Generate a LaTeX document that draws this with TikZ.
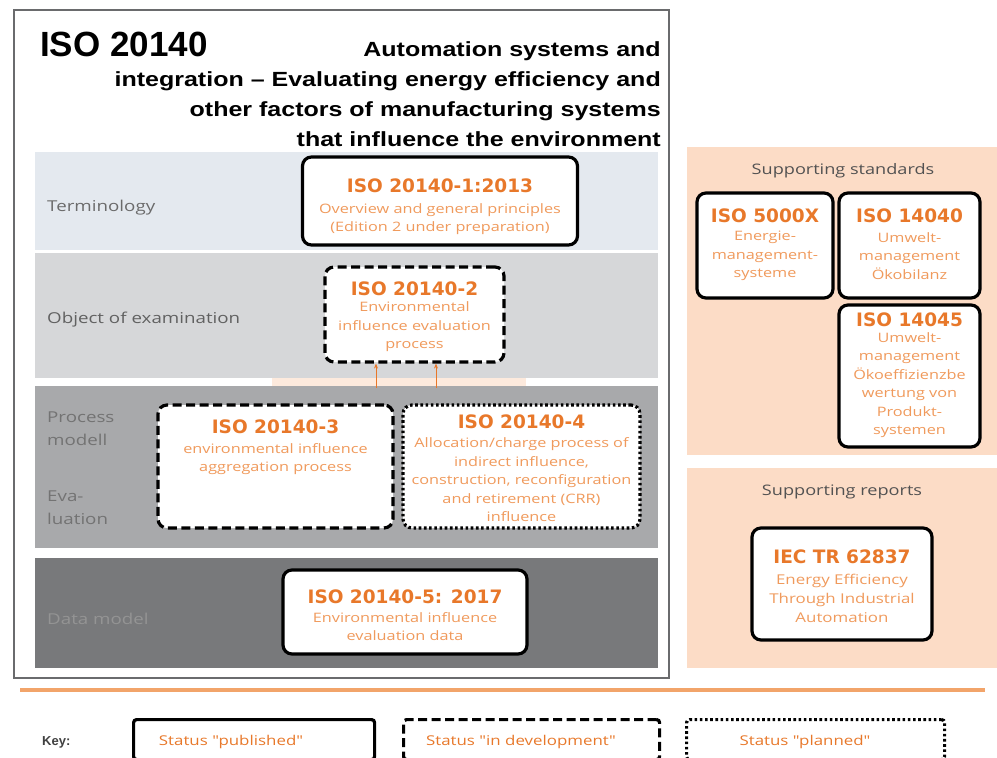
\documentclass[tikz,border=0pt]{standalone}
\usepackage{fontspec}
\usetikzlibrary{arrows.meta}
\setmainfont{Open Sans}
\newfontfamily\titlefont{Liberation Sans}
\newfontfamily\widetitle[FakeStretch=1.22]{Liberation Sans}
\newfontfamily\widetext[FakeStretch=1.25]{Open Sans}
\newfontfamily\boxfont{DejaVu Sans}
\definecolor{orT}{HTML}{E8782A}
\definecolor{orD}{HTML}{F09A5C}
\definecolor{peach}{HTML}{FCDCC6}
\definecolor{bandA}{HTML}{E4E9EF}
\definecolor{bandB}{HTML}{D6D7D9}
\definecolor{bandC}{HTML}{A8A9AB}
\definecolor{bandD}{HTML}{78797B}
\definecolor{frameC}{HTML}{6A6B6D}
\definecolor{orLine}{HTML}{F2A46A}
\tikzset{
  stdbox/.style={draw=black, fill=white, rounded corners=9pt, line width=3.2pt, inner sep=0pt},
  pub/.style={stdbox},
  devbox/.style={stdbox, dash pattern=on 9pt off 4.5pt},
  planbox/.style={stdbox, dash pattern=on 2.6pt off 2.6pt},
  ttl/.style={text=orT, font=\boxfont\bfseries\fontsize{18.5}{22}\selectfont, inner sep=0pt},
  dsc/.style={text=orD, align=center, font=\widetext\fontsize{13}{18.5}\selectfont, inner sep=0pt},
  lbl/.style={anchor=west, align=left, font=\widetext\fontsize{15}{23}\selectfont, inner sep=0pt},
  sup/.style={text=black!68, font=\widetext\fontsize{14.5}{18}\selectfont, inner sep=0pt},
  arr/.style={draw=orT, line width=0.8pt, -{Stealth[length=5pt,width=4pt]}},
  keytxt/.style={text=orT, font=\widetext\fontsize{13.5}{15}\selectfont, inner sep=0pt}
}
\begin{document}
\begin{tikzpicture}[x=1pt,y=-1pt]
\useasboundingbox (0,0) rectangle (997,758);
\fill[white] (0,0) rectangle (997,758);
% main frame
\draw[frameC, line width=2pt] (14,10) rectangle (669,678);
% title
\node[anchor=base west, inner sep=0pt, font=\titlefont\bfseries\fontsize{35}{40}\selectfont] (title) at (40,56) {ISO 20140};
\node[anchor=north east, align=right, inner sep=0pt, font=\widetitle\bfseries\fontsize{20.5}{30}\selectfont] (subtitle) at (661,41)
 {Automation systems and\\integration – Evaluating energy efficiency and\\other factors of manufacturing systems\\that influence the environment};
% bands
\fill[bandA] (35,152) rectangle (658,250);
\fill[bandB] (35,253) rectangle (658,378);
\fill[peach!60] (272,378) rectangle (526,386);
\fill[bandC] (35,386) rectangle (658,548);
\fill[bandD] (35,558) rectangle (658,668);
% band labels
\node[lbl, text=black!58] (lT) at (47,208) {Terminology};
\node[lbl, text=black!62] (lO) at (47,320) {Object of examination};
\node[lbl, text=black!55] (lP) at (47,429) {Process\\modell};
\node[lbl, text=black!55] (lE) at (47,508) {Eva-\\luation};
\node[lbl, text=black!42] (lD) at (47,619) {Data model};
% ISO boxes
\node[pub, minimum width=275pt, minimum height=88pt] (b1) at (440,201) {};
\node[ttl] (b1t) at (440,186) {ISO 20140-1:2013};
\node[dsc] (b1d) at (440,219) {Overview and general principles\\(Edition 2 under preparation)};

\node[devbox, minimum width=179pt, minimum height=95pt] (b2) at (414.5,314.5) {};
\node[ttl] (b2t) at (414.5,289) {ISO 20140-2};
\node[dsc] (b2d) at (414.5,327) {Environmental\\influence evaluation\\process};

\node[devbox, minimum width=235pt, minimum height=123pt] (b3) at (275.5,466.5) {};
\node[ttl] (b3t) at (275.5,427) {ISO 20140-3};
\node[dsc] (b3d) at (275.5,459) {environmental influence\\aggregation process};

\node[planbox, minimum width=237pt, minimum height=123pt] (b4) at (521.5,466.5) {};
\node[ttl] (b4t) at (521.5,422) {ISO 20140-4};
\node[dsc] (b4d) at (521.5,480) {Allocation/charge process of\\indirect influence,\\construction, reconfiguration\\and retirement (CRR)\\influence};

\node[pub, minimum width=244pt, minimum height=84pt] (b5) at (405,612) {};
\node[ttl] (b5t) at (405,597) {ISO 20140-5: 2017};
\node[dsc] (b5d) at (405,626.5) {Environmental influence\\evaluation data};
% arrows
\coordinate (s3) at (376,388);
\coordinate (s4) at (436,388);
\draw[arr] (s3) -- (s3 |- b2.south);
\draw[arr] (s4) -- (s4 |- b2.south);
% right panels
\fill[peach] (687,147) rectangle (997,455);
\fill[peach] (687,468) rectangle (997,668);
\node[sup] (supS) at (843,171) {Supporting standards};
\node[sup] (supR) at (842,492) {Supporting reports};

\node[pub, minimum width=136pt, minimum height=105pt] (s1) at (765,245.5) {};
\node[ttl] (s1t) at (765,216) {ISO 5000X};
\node[dsc] (s1d) at (765,256) {Energie-\\management-\\systeme};

\node[pub, minimum width=141pt, minimum height=105pt] (s2) at (909.5,245.5) {};
\node[ttl] (s2t) at (909.5,216) {ISO 14040};
\node[dsc] (s2d) at (909.5,256) {Umwelt-\\management\\Ökobilanz};

\node[pub, minimum width=141pt, minimum height=142pt] (s3b) at (909.5,376) {};
\node[ttl] (s3t) at (909.5,320) {ISO 14045};
\node[dsc, font=\widetext\fontsize{13}{18.5}\selectfont] (s3d) at (909.5,385) {Umwelt-\\management\\Ökoeffizienzbe\\wertung von\\Produkt-\\systemen};

\node[pub, minimum width=180pt, minimum height=112pt] (r1) at (842,584) {};
\node[ttl] (r1t) at (842,557) {IEC TR 62837};
\node[dsc, font=\widetext\fontsize{13.5}{19}\selectfont] (r1d) at (842,598) {Energy Efficiency\\Through Industrial\\Automation};
% separator
\draw[orLine, line width=3.5pt] (20,690) -- (985,690);
% key
\node[anchor=west, inner sep=0pt, text=black!75, font=\titlefont\bfseries\fontsize{13}{15}\selectfont] (key) at (42,742) {Key:};
\node[pub, rounded corners=3pt, minimum width=241pt, minimum height=40pt, anchor=north west] (k1) at (132,718) {};
\node[keytxt] (k1t) at (231,742) {Status "published"};
\node[devbox, rounded corners=3pt, minimum width=256pt, minimum height=40pt, anchor=north west] (k2) at (402,718) {};
\node[keytxt] (k2t) at (521,742) {Status "in development"};
\node[planbox, rounded corners=3pt, minimum width=258pt, minimum height=40pt, anchor=north west] (k3) at (685,718) {};
\node[keytxt] (k3t) at (805,742) {Status "planned"};
\end{tikzpicture}
\end{document}
